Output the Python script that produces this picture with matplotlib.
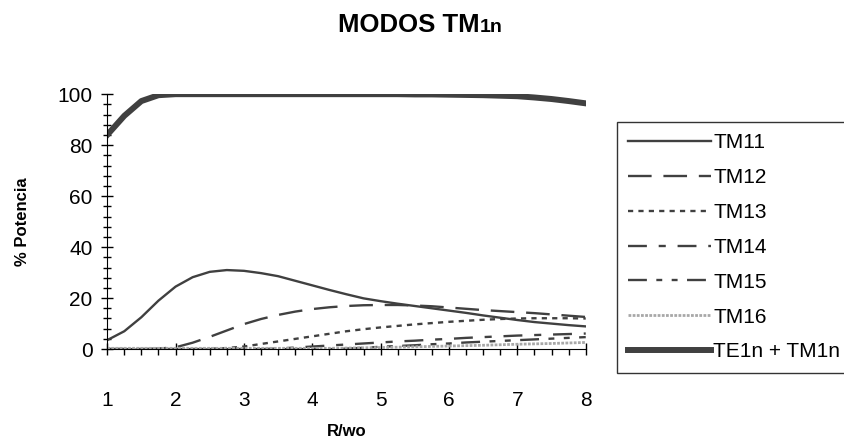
import numpy as np
import matplotlib.pyplot as plt
from matplotlib.ticker import MultipleLocator

plt.rcParams['font.family'] = ['Liberation Sans', 'DejaVu Sans']

r = [1, 1.25, 1.5, 1.75, 2, 2.25, 2.5, 2.75, 3, 3.25, 3.5, 3.75, 4, 4.25, 4.5,
     4.75, 5, 5.25, 5.5, 5.75, 6, 6.25, 6.5, 6.75, 7, 7.25, 7.5, 7.75, 8]

tm11 = [3.5, 7, 12.5, 19, 24.5, 28.2, 30.3, 31, 30.7, 29.8, 28.6, 26.8, 25, 23.2, 21.5,
        19.9, 18.8, 17.8, 16.9, 16, 15.1, 14.2, 13.2, 12.3, 11.4, 10.6, 10, 9.4, 8.9]
tm12 = [0, 0, 0, 0.2, 0.7, 2.5, 4.8, 7.3, 9.8, 11.8, 13.4, 14.7, 15.7, 16.4, 16.9,
        17.2, 17.3, 17.3, 17.1, 16.8, 16.3, 15.8, 15.3, 14.9, 14.5, 14.1, 13.6, 13.1, 12.6]
tm13 = [0, 0, 0, 0, 0, 0, 0.1, 0.4, 1, 2, 3, 4, 5, 6, 7,
        7.8, 8.5, 9.1, 9.7, 10.2, 10.7, 11.1, 11.5, 11.8, 12, 12.1, 12.1, 12.1, 12]
tm14 = [0, 0, 0, 0, 0, 0, 0, 0, 0, 0, 0.2, 0.6, 1, 1.4, 1.8,
        2.2, 2.6, 3, 3.3, 3.7, 4, 4.4, 4.7, 5, 5.3, 5.5, 5.7, 5.9, 6.1]
tm15 = [0, 0, 0, 0, 0, 0, 0, 0, 0, 0, 0, 0, 0, 0, 0.2,
        0.5, 0.9, 1.2, 1.5, 1.9, 2.2, 2.6, 2.9, 3.2, 3.5, 3.8, 4.1, 4.4, 4.7]
tm16 = [0.3, 0.3, 0.3, 0.3, 0.3, 0.3, 0.3, 0.3, 0.3, 0.3, 0.3, 0.3, 0.3, 0.3, 0.4,
        0.5, 0.6, 0.75, 0.9, 1.05, 1.2, 1.35, 1.5, 1.7, 1.9, 2.05, 2.2, 2.4, 2.6]
total = [84, 91.5, 97.3, 99.6, 100, 100, 100, 100, 100, 100, 100, 100, 100, 100, 100,
         100, 100, 100, 99.9, 99.9, 99.8, 99.7, 99.6, 99.4, 99.2, 98.7, 98.1, 97.3, 96.4]

gris = '#404040'

fig = plt.figure(figsize=(8.44, 4.38), dpi=100)
ax = fig.add_axes([0.127, 0.203, 0.567, 0.582])

ax.plot(r, tm11, color=gris, lw=1.7, label='TM11')
ax.plot(r, tm12, color=gris, lw=1.7, dashes=(10, 5), label='TM12')
ax.plot(r, tm13, color=gris, lw=1.7, dashes=(2.2, 2.2), label='TM13')
ax.plot(r, tm14, color=gris, lw=1.7, dashes=(8, 5, 3, 5), label='TM14')
ax.plot(r, tm15, color=gris, lw=1.7, dashes=(8, 4, 2.5, 4, 2.5, 4), label='TM15')
ax.plot(r, tm16, color='#a8a8a8', lw=2, dashes=(1, 0.5), label='TM16')
ax.plot(r, total, color=gris, lw=4.3, label='TE1n + TM1n')

ax.set_xlim(1, 8)
ax.set_ylim(0, 100)
ax.xaxis.set_major_locator(MultipleLocator(1))
ax.xaxis.set_minor_locator(MultipleLocator(0.25))
ax.yaxis.set_major_locator(MultipleLocator(20))
ax.yaxis.set_minor_locator(MultipleLocator(4))
ax.spines['top'].set_visible(False)
ax.spines['right'].set_visible(False)
ax.tick_params(axis='y', which='major', direction='inout', length=9, width=1, labelsize=15, pad=6)
ax.tick_params(axis='y', which='minor', direction='inout', length=6, width=1)
ax.tick_params(axis='x', which='major', direction='inout', length=8, width=1, labelsize=15, pad=26)
ax.tick_params(axis='x', which='minor', direction='out', length=4, width=1)

ax.set_xlabel('R/wo', fontsize=12, fontweight='bold', labelpad=10)
ax.set_ylabel('% Potencia', fontsize=12, fontweight='bold', labelpad=20)

fig.text(0.568, 0.927, 'MODOS TM', fontsize=18.5, fontweight='bold', ha='right', va='baseline')
fig.text(0.568, 0.927, '1n', fontsize=14, fontweight='bold', ha='left', va='baseline')

leg = ax.legend(loc='upper left', bbox_to_anchor=(617 / 844, 1 - 122 / 438),
                bbox_transform=fig.transFigure, fontsize=15, frameon=True,
                fancybox=False, edgecolor='black', handlelength=3.95,
                handletextpad=0.12, labelspacing=0.76, borderpad=0.55, borderaxespad=0)
leg.get_frame().set_linewidth(1)

fig.savefig('out.png', dpi=100)
